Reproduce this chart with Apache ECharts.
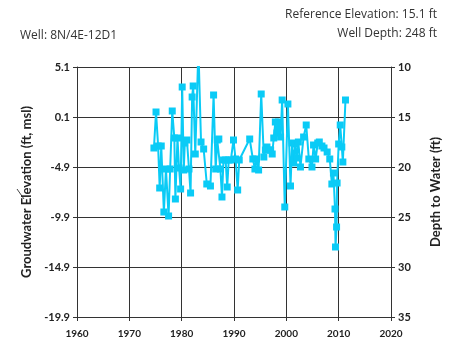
<!DOCTYPE html>
<html><head><meta charset="utf-8">
<script src="https://cdn.jsdelivr.net/npm/echarts@6/dist/echarts.min.js"></script>
<style>html,body{margin:0;padding:0;background:#fff}#c{width:455px;height:344px}</style>
</head><body><div id="c"></div>
<script>
const years = [1974.7,1975.1,1975.5,1975.8,1976.1,1976.6,1977.0,1977.5,1977.8,1978.2,1978.6,1978.8,1979.2,1979.5,1979.8,1980.1,1980.4,1980.6,1981.0,1981.4,1981.7,1982.0,1982.2,1982.6,1983.2,1983.7,1984.2,1984.8,1985.5,1986.1,1986.5,1986.8,1987.1,1987.4,1987.7,1988.0,1988.4,1988.7,1989.0,1989.4,1989.9,1990.3,1990.7,1991.0,1993.0,1993.6,1994.0,1994.3,1994.7,1995.2,1995.7,1996.0,1996.3,1996.7,1997.0,1997.3,1997.6,1997.9,1998.2,1998.5,1998.9,1999.2,1999.7,2000.3,2000.8,2001.1,2001.4,2001.7,2002.0,2002.3,2002.7,2003.3,2003.8,2004.3,2004.9,2005.2,2005.6,2006.0,2006.3,2006.8,2007.2,2007.8,2008.3,2008.7,2009.0,2009.3,2009.4,2009.6,2009.7,2010.0,2010.3,2010.6,2010.8,2011.3];
const elevation = [-3.0,0.6,-2.8,-7.0,-2.8,-9.4,-5.1,-9.8,-5.1,0.7,-2.0,-8.1,-2.0,-5.0,-7.1,3.1,-5.2,-2.5,-2.2,-5.1,-7.5,2.1,3.2,-3.6,7.0,-2.4,-3.1,-6.6,-6.8,2.3,-5.1,-2.2,-2.1,-5.1,-7.9,-4.2,-4.2,-6.9,-4.2,-4.2,-2.2,-4.1,-7.2,-4.2,-2.1,-4.1,-5.1,-4.1,-5.2,2.4,-3.9,-3.2,-2.9,-3.2,-3.2,-3.6,-2.0,-0.4,-1.5,-0.4,-1.9,1.8,-8.9,1.4,-6.8,-2.5,-4.5,-2.6,-4.0,-2.4,-4.9,-1.9,-0.7,-4.1,-4.9,-2.7,-4.1,-2.5,-2.4,-2.8,-3.0,-3.4,-4.1,-6.6,-5.5,-9.1,-12.9,-10.9,-6.5,-2.6,-0.7,-2.9,-4.4,1.8];
const elevTicks = ['-19.9','-14.9','-9.9','-4.9','0.1','5.1'];
const depthTicks = ['10','15','20','25','30','35'];
const title1 = 'Well: 8N/4E-12D1';
const title2 = 'Reference Elevation: 15.1 ft';
const title3 = 'Well Depth: 248 ft';

const data = years.map((y, i) => [y, elevation[i]]);
const chart = echarts.init(document.getElementById('c'));
const lab = {fontFamily: 'Lato', fontWeight: 'bold', color: '#222', fontSize: 11};
chart.setOption({
  animation: false,
  grid: {left: 77, right: 64, top: 67, bottom: 27},
  graphic: [
    {type: 'text', left: 20, top: 30, style: {text: title1, font: '12px "Open Sans"', fill: '#333'}},
    {type: 'text', right: 18, top: 9, style: {text: title2, font: '12px "Open Sans"', fill: '#333', textAlign: 'right'}},
    {type: 'text', right: 18, top: 28, style: {text: title3, font: '12px "Open Sans"', fill: '#333', textAlign: 'right'}},
    {type: 'line', shape: {x1: 17, y1: 189, x2: 24, y2: 199}, style: {stroke: '#444', lineWidth: 1}}
  ],
  xAxis: {
    type: 'value', min: 1960, max: 2020, interval: 10,
    axisLine: {onZero: false, lineStyle: {color: '#333'}},
    axisTick: {show: true, length: 4, lineStyle: {color: '#333'}},
    splitLine: {show: true, lineStyle: {color: '#333', width: 1}},
    axisLabel: Object.assign({}, lab, {fontSize: 10, margin: 12, formatter: v => String(v)})
  },
  yAxis: [
    {
      type: 'value', min: -19.9, max: 5.1, interval: 5,
      axisLine: {show: true, lineStyle: {color: '#333'}},
      axisTick: {show: true, length: 4, lineStyle: {color: '#333'}},
      splitLine: {show: true, lineStyle: {color: '#333', width: 1}},
      axisLabel: Object.assign({}, lab, {margin: 7, formatter: v => elevTicks[Math.round((v + 19.9) / 5)]}),
      name: 'Groudwater Elevation (ft, msl)', nameLocation: 'middle', nameGap: 40,
      nameTextStyle: {fontFamily: 'Lato', fontWeight: 'bold', fontSize: 13, color: '#222'}
    },
    {
      type: 'value', min: 10, max: 35, interval: 5, inverse: true, position: 'right',
      axisLine: {show: true, lineStyle: {color: '#333'}},
      axisTick: {show: true, length: 4, lineStyle: {color: '#333'}},
      splitLine: {show: false},
      axisLabel: Object.assign({}, lab, {margin: 7, formatter: v => depthTicks[Math.round((v - 10) / 5)]}),
      name: 'Depth to Water (ft)', nameLocation: 'middle', nameGap: 38,
      nameTextStyle: {fontFamily: 'Lato', fontWeight: 'bold', fontSize: 13, color: '#222'}
    }
  ],
  series: [{
    type: 'line', data: data, yAxisIndex: 0, clip: true,
    symbol: 'rect', symbolSize: 7, showAllSymbol: true,
    lineStyle: {color: '#0ACBF6', width: 2},
    itemStyle: {color: '#0ACBF6'}
  }]
});
</script></body></html>
